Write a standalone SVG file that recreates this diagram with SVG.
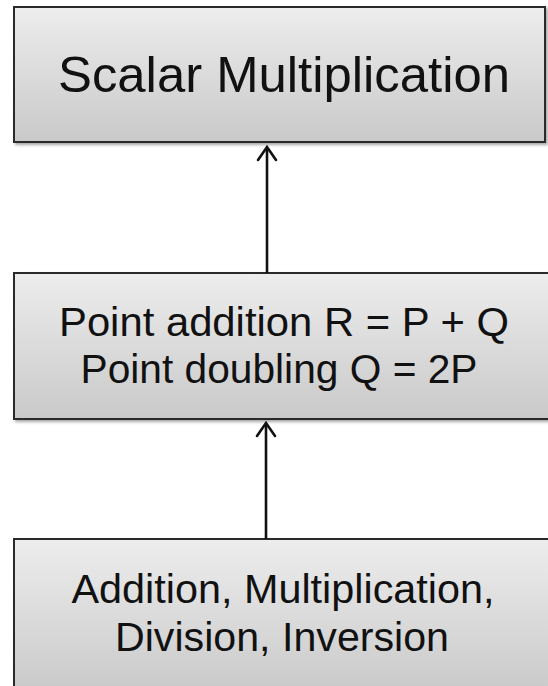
<svg xmlns="http://www.w3.org/2000/svg" width="548" height="686" viewBox="0 0 548 686">
  <style>
    .box { fill: url(#boxFill); stroke: #2a2a2a; stroke-width: 2; filter: url(#shadow); }
    .label { font-family: "Liberation Sans", Arial, sans-serif; fill: #111; text-anchor: middle; }
    .wire { stroke: #111; stroke-width: 2.6; fill: none; }
    .head { stroke: #111; stroke-width: 2.6; fill: none; stroke-linecap: round; stroke-linejoin: miter; }
  </style>
  <defs>
    <linearGradient id="boxFill" x1="0" y1="0" x2="0" y2="1">
      <stop offset="0" stop-color="#ededed"/>
      <stop offset="1" stop-color="#c9c9c9"/>
    </linearGradient>
    <filter id="shadow" x="-5%" y="-5%" width="112%" height="115%">
      <feGaussianBlur in="SourceAlpha" stdDeviation="1.5"/>
      <feOffset dx="1.5" dy="2" result="off"/>
      <feComponentTransfer><feFuncA type="linear" slope="0.35"/></feComponentTransfer>
      <feMerge><feMergeNode/><feMergeNode in="SourceGraphic"/></feMerge>
    </filter>
  </defs>

  <rect width="548" height="686" fill="#ffffff"/>

  <g id="scalar-multiplication">
    <rect class="box" x="14" y="7" width="531" height="135"/>
    <text class="label" x="284" y="92" font-size="50" textLength="452" lengthAdjust="spacingAndGlyphs">Scalar Multiplication</text>
  </g>

  <g id="point-operations">
    <rect class="box" x="14" y="273" width="546" height="146"/>
    <text class="label" x="284" y="336" font-size="41" textLength="450" lengthAdjust="spacingAndGlyphs">Point addition R = P + Q</text>
    <text class="label" x="279" y="383" font-size="41" textLength="397" lengthAdjust="spacingAndGlyphs">Point doubling Q = 2P</text>
  </g>

  <g id="field-operations">
    <rect class="box" x="14" y="539" width="546" height="155"/>
    <text class="label" x="283" y="603" font-size="41" textLength="423" lengthAdjust="spacingAndGlyphs">Addition, Multiplication,</text>
    <text class="label" x="282" y="651" font-size="41" textLength="334" lengthAdjust="spacingAndGlyphs">Division, Inversion</text>
  </g>

  <g id="connectors">
    <line class="wire" x1="267" y1="273" x2="267" y2="148"/>
    <polyline class="head" points="258,160 267,147 276,160"/>
    <line class="wire" x1="266" y1="539" x2="266" y2="424"/>
    <polyline class="head" points="257,436 266,423 275,436"/>
  </g>
</svg>
